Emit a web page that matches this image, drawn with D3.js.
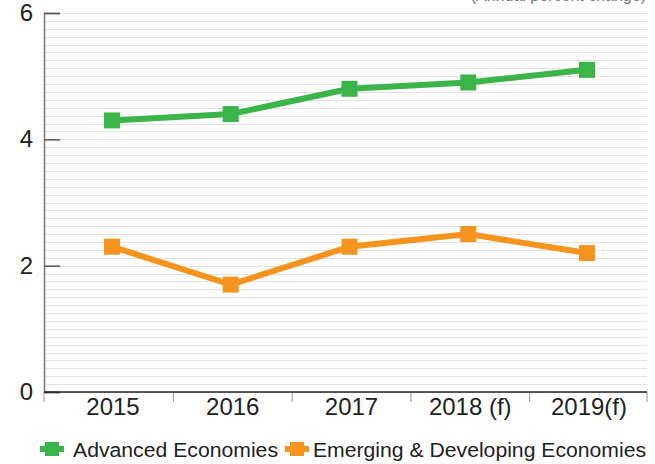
<!DOCTYPE html>
<html>
<head>
<meta charset="utf-8">
<script src="https://cdn.jsdelivr.net/npm/d3@7"></script>
<style>
  body { margin: 0; background: #fff; }
  text { font-family: "Liberation Sans", Arial, sans-serif; }
</style>
</head>
<body>
<div id="chart"></div>
<script>
let years = ["2015", "2016", "2017", "2018 (f)", "2019(f)"];
let advanced = [4.3, 4.4, 4.8, 4.9, 5.1];
let emerging = [2.3, 1.7, 2.3, 2.5, 2.2];
let yTicks = [0, 2, 4, 6];
let seriesNames = ["Advanced Economies", "Emerging & Developing Economies"];
let palette = ["#3bb54a", "#f7941d"];

let W = 655, H = 464;
let svg = d3.select("#chart").append("svg")
  .attr("width", W).attr("height", H);

// plot box
let plotLeft = 44, plotRight = 647, plotTop = 13, plotBottom = 392;

let y = d3.scaleLinear().domain([0, 6]).range([plotBottom, plotTop]);
let x = d3.scalePoint().domain(years).range([112, 587]);

// minor grid
let grid = d3.range(0, 6.0001, 0.125);
svg.append("g").selectAll("line")
  .data(grid)
  .enter().append("line")
  .attr("x1", plotLeft).attr("x2", plotRight)
  .attr("y1", d => Math.round(y(d)) + 0.5)
  .attr("y2", d => Math.round(y(d)) + 0.5)
  .attr("stroke", "#e3e3e3")
  .attr("stroke-width", 1);

// note at the top, cut by the frame as in the source
svg.append("text")
  .attr("x", 646).attr("y", 1)
  .attr("text-anchor", "end")
  .attr("font-size", 16)
  .attr("fill", "#777")
  .text("(Annual percent change)");

// y axis
let yAxis = svg.append("g")
  .attr("transform", "translate(" + plotLeft + ",0)")
  .call(d3.axisRight(y).tickValues(yTicks).tickSize(16).tickFormat(""));
yAxis.select(".domain").attr("stroke", "#777").attr("stroke-width", 1.5);
yAxis.selectAll(".tick line").attr("stroke", "#555").attr("stroke-width", 1.5);

svg.append("g").selectAll("text")
  .data(yTicks)
  .enter().append("text")
  .attr("x", 33).attr("y", d => y(d) + 8)
  .attr("text-anchor", "end")
  .attr("font-size", 24)
  .attr("fill", "#222")
  .text(d => d);

// x axis with tick marks between categories
let bounds = [plotLeft];
for (let i = 1; i < years.length; i++) bounds.push((x(years[i - 1]) + x(years[i])) / 2 + 2);
bounds.push(plotRight);
svg.append("g").selectAll("line")
  .data(bounds)
  .enter().append("line")
  .attr("x1", d => d).attr("x2", d => d)
  .attr("y1", plotBottom).attr("y2", plotBottom + 10)
  .attr("stroke", "#999").attr("stroke-width", 1);
svg.append("line")
  .attr("x1", plotLeft).attr("x2", plotRight)
  .attr("y1", plotBottom).attr("y2", plotBottom)
  .attr("stroke", "#222").attr("stroke-width", 1.5);

svg.append("g").selectAll("text")
  .data(years)
  .enter().append("text")
  .attr("x", (d, i) => x(d) + (i == 0 ? 1 : 2))
  .attr("y", 415)
  .attr("text-anchor", "middle")
  .attr("font-size", 24)
  .attr("fill", "#222")
  .text(d => d);

// lines + square markers
let line = d3.line().x((d, i) => x(years[i])).y(d => y(d));
[advanced, emerging].forEach(function(vals, k) {
  svg.append("path")
    .datum(vals)
    .attr("d", line)
    .attr("fill", "none")
    .attr("stroke", palette[k])
    .attr("stroke-width", 6);
  svg.append("g").selectAll("rect")
    .data(vals)
    .enter().append("rect")
    .attr("x", (d, i) => x(years[i]) - 8)
    .attr("y", d => y(d) - 8)
    .attr("width", 16).attr("height", 16)
    .attr("fill", palette[k]);
});

// legend
let legendX = [40, 285];
let legendW = [205, 333];
seriesNames.forEach(function(name, k) {
  let g = svg.append("g").attr("transform", "translate(" + legendX[k] + ",449)");
  g.append("line").attr("x1", 0).attr("x2", 24).attr("y1", 0).attr("y2", 0)
    .attr("stroke", palette[k]).attr("stroke-width", 6);
  g.append("rect").attr("x", 5).attr("y", -7).attr("width", 14).attr("height", 14)
    .attr("fill", palette[k]);
  g.append("text")
    .attr("x", k == 0 ? 33 : 28).attr("y", 8)
    .attr("font-size", 20)
    .attr("fill", "#222")
    .attr("textLength", legendW[k])
    .attr("lengthAdjust", "spacingAndGlyphs")
    .text(name);
});
</script>
</body>
</html>
